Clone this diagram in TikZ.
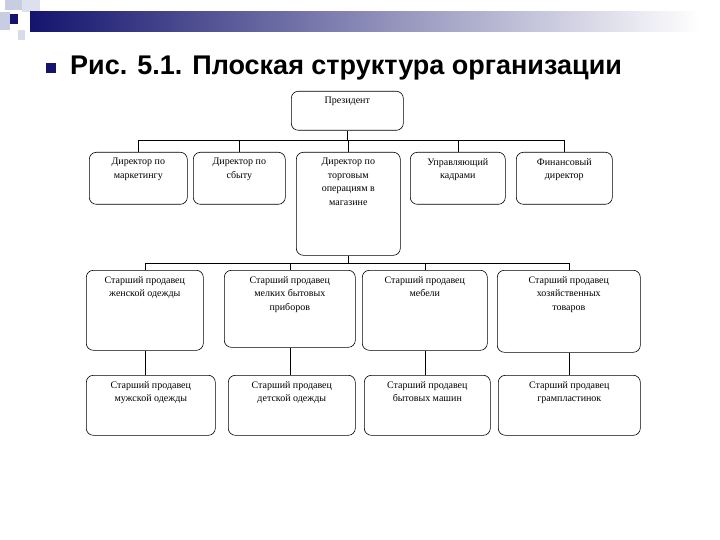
\documentclass[tikz,border=0pt]{standalone}
\usepackage{fontspec}
\setmainfont{Liberation Serif}
\newfontfamily\titlefont{Liberation Sans}
\begin{document}
\begin{tikzpicture}[x=1pt,y=-1pt,
  box/.style={draw,rounded corners=7pt,line width=0.6pt,anchor=north west,inner sep=0pt},
  txt/.style={anchor=north,font=\fontsize{10}{13.5}\selectfont,align=center,inner sep=0pt},
  ln/.style={line width=0.6pt}]
\useasboundingbox (0,0) rectangle (720,540);
\definecolor{navy}{RGB}{20,20,110}
\definecolor{pale}{RGB}{200,205,225}
% header decoration
\fill[pale] (5,0) rectangle (22,10);
\fill[pale!60] (22,0) rectangle (40,12);
\fill[pale] (0,12) rectangle (10,30);
\fill[navy] (10,14) rectangle (18,24);
\fill[pale!70] (18,30) rectangle (25,40);
\shade[left color=navy,right color=white] (30,12) rectangle (700,32);
% title
\fill[navy] (46,63) rectangle (56,73);
\node[anchor=west,inner sep=0pt,font=\titlefont\bfseries\fontsize{27}{30}\selectfont] (title) at (70,68) {Рис. 5.1. Плоская структура организации};
% boxes
\newcommand{\bx}[6]{\node[box,minimum width=#4-#2,minimum height=#5-#3] (#1) at (#2,#3) {};
  \node[txt] (#1t) at ([yshift=-6pt]#1.north) {#6};}
\bx{p}{291}{91}{403}{130}{Президент}
\bx{a}{89}{152}{187}{204}{Директор по\\маркетингу}
\bx{b}{193}{152}{285}{204}{Директор по\\сбыту}
\bx{c}{296}{152}{400}{255}{Директор по\\торговым\\операциям в\\магазине}
\bx{d}{410}{152}{505}{204}{Управляющий\\кадрами}
\bx{e}{516}{152}{612}{204}{Финансовый\\директор}
\bx{r1}{86}{270}{203}{350}{Старший продавец\\женской одежды}
\bx{r2}{224}{270}{355}{347}{Старший продавец\\мелких бытовых\\приборов}
\bx{r3}{362}{270}{487}{350}{Старший продавец\\мебели}
\bx{r4}{497}{270}{640}{352}{Старший продавец\\хозяйственных\\товаров}
\bx{s1}{86}{375}{215}{435}{Старший продавец\\мужской одежды}
\bx{s2}{228}{375}{355}{435}{Старший продавец\\детской одежды}
\bx{s3}{364}{375}{490}{435}{Старший продавец\\бытовых машин}
\bx{s4}{498}{375}{640}{435}{Старший продавец\\грампластинок}
% connectors
\draw[ln] (p.south) -- (p.south|-0,140);
\foreach \n in {a,b,c,d,e} \draw[ln] (\n.north) -- (\n.north|-0,140);
\draw[ln] (a.north|-0,140) -- (e.north|-0,140);
\draw[ln] (c.south) -- (c.south|-0,263);
\foreach \n in {r1,r2,r3,r4} \draw[ln] (\n.north) -- (\n.north|-0,263);
\draw[ln] (r1.north|-0,263) -- (r4.north|-0,263);
\foreach \i in {1,2,3,4} \draw[ln] (r\i.south) -- (r\i.south|-s\i.north);
\end{tikzpicture}
\end{document}
